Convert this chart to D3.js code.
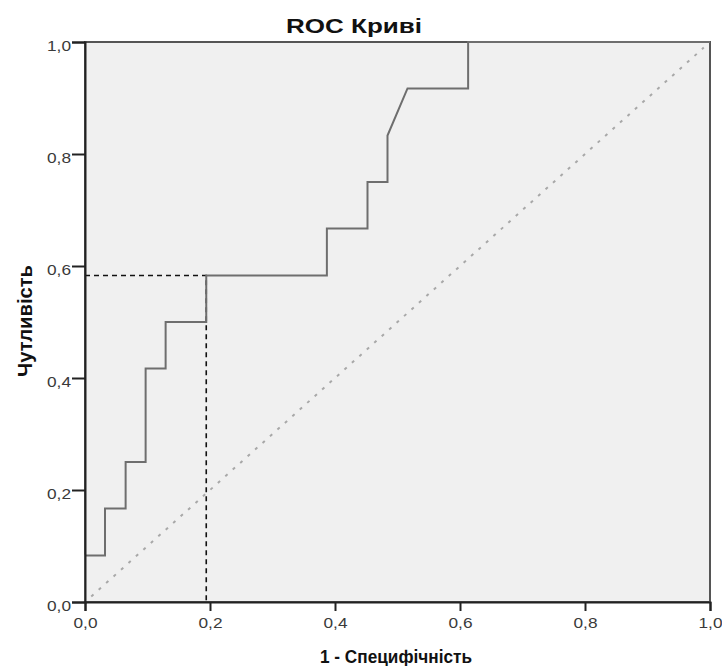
<!DOCTYPE html>
<head>
  <meta charset="utf-8">
  <script src="https://d3js.org/d3.v7.min.js"></script>
  <style>
    body { margin: 0; background: #fff; font-family: "Liberation Sans", Arial, sans-serif; }
    .axis-title { font-weight: bold; fill: #111; }
  </style>
</head>
<body>
  <div id="chart"></div>
  <script>
    // ROC curve points (1 - specificity, sensitivity)
    var fpr = [0, 0, 0.032, 0.032, 0.065, 0.065, 0.097, 0.097, 0.129, 0.129, 0.194, 0.194,
               0.387, 0.387, 0.452, 0.452, 0.484, 0.484, 0.516, 0.613, 0.613, 1];
    var tpr = [0, 0.083, 0.083, 0.167, 0.167, 0.25, 0.25, 0.417, 0.417, 0.5, 0.5, 0.583,
               0.583, 0.667, 0.667, 0.75, 0.75, 0.833, 0.917, 0.917, 1, 1];
    // cut-off point marked by dashed lines
    var cutX = 0.194, cutY = 0.583;
    var tickValues = [0, 0.2, 0.4, 0.6, 0.8, 1.0];
    var tickLabels = ["0,0", "0,2", "0,4", "0,6", "0,8", "1,0"];

    var width = 722, height = 666;
    var margin = {left: 85, right: 12, top: 42, bottom: 64};

    var svg = d3.select("#chart").append("svg")
      .attr("width", width)
      .attr("height", height);

    var x = d3.scaleLinear().domain([0, 1]).range([margin.left, width - margin.right]);
    var y = d3.scaleLinear().domain([0, 1]).range([height - margin.bottom, margin.top]);

    // plot background
    svg.append("rect")
      .attr("x", x(0)).attr("y", y(1))
      .attr("width", x(1) - x(0)).attr("height", y(0) - y(1))
      .attr("fill", "#f0f0f0")
      .attr("stroke", "#555")
      .attr("stroke-width", 2);

    // reference diagonal
    svg.append("line")
      .attr("x1", x(0.01)).attr("y1", y(0.01))
      .attr("x2", x(0.99)).attr("y2", y(0.99))
      .attr("stroke", "#a8a8a8")
      .attr("stroke-width", 2)
      .attr("stroke-dasharray", "3,7");

    // cut-off dashed lines
    svg.append("path")
      .attr("d", "M" + x(0) + "," + y(cutY) + "H" + x(cutX) + "V" + y(0))
      .attr("fill", "none")
      .attr("stroke", "#111")
      .attr("stroke-width", 1.6)
      .attr("stroke-dasharray", "5,4");

    var line = d3.line()
      .x(function(d) { return x(d[0]); })
      .y(function(d) { return y(d[1]); });

    svg.append("path")
      .datum(d3.zip(fpr, tpr))
      .attr("d", line)
      .attr("fill", "none")
      .attr("stroke", "#6e6e6e")
      .attr("stroke-width", 2);

    var xAxis = svg.append("g")
      .attr("transform", "translate(0," + y(0) + ")")
      .call(d3.axisBottom(x).tickValues(tickValues)
        .tickFormat(function(d, i) { return tickLabels[i]; })
        .tickSize(9).tickPadding(6));

    var yAxis = svg.append("g")
      .attr("transform", "translate(" + x(0) + ",0)")
      .call(d3.axisLeft(y).tickValues(tickValues)
        .tickFormat(function(d, i) { return tickLabels[i]; })
        .tickSize(13).tickPadding(1));

    yAxis.selectAll(".tick text").attr("dy", "0.55em");

    svg.selectAll(".domain").attr("stroke", "#222").attr("stroke-width", 2);
    svg.selectAll(".tick line").attr("stroke", "#222").attr("stroke-width", 2);
    svg.selectAll(".tick text")
      .style("font-size", "15px")
      .style("font-family", "'Liberation Sans', Arial, sans-serif")
      .style("fill", "#3a3a3a")
      .attr("textLength", 24)
      .attr("lengthAdjust", "spacingAndGlyphs");

    svg.append("text")
      .attr("class", "axis-title")
      .attr("x", 354).attr("y", 33)
      .attr("text-anchor", "middle")
      .style("font-size", "21px")
      .attr("textLength", 136)
      .attr("lengthAdjust", "spacingAndGlyphs")
      .text("ROC Криві");

    svg.append("text")
      .attr("class", "axis-title")
      .attr("x", 396).attr("y", 663)
      .attr("text-anchor", "middle")
      .style("font-size", "18px")
      .attr("textLength", 152)
      .attr("lengthAdjust", "spacingAndGlyphs")
      .text("1 - Специфічність");

    svg.append("text")
      .attr("class", "axis-title")
      .attr("transform", "translate(32,321) rotate(-90)")
      .attr("text-anchor", "middle")
      .style("font-size", "21px")
      .attr("textLength", 112)
      .attr("lengthAdjust", "spacingAndGlyphs")
      .text("Чутливість");
  </script>
</body>
